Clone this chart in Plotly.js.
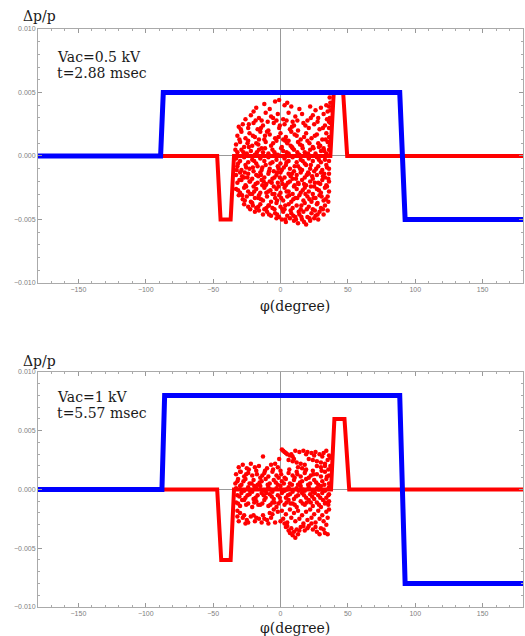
<!DOCTYPE html>
<html>
<head>
<meta charset="utf-8">
<script src="https://cdn.plot.ly/plotly-3.0.1.min.js"></script>
<style>html,body{margin:0;padding:0;background:#fff;}#chart{width:525px;height:636px;}</style>
</head>
<body>
<div id="chart"></div>
<script>
// ---- Panel 1 (Vac = 0.5 kV, t = 2.88 msec) ----
const blue1Phi = [-180, -89, -87, 88.5, 92.5, 180];
const blue1Dp  = [0, 0, 0.005, 0.005, -0.005, -0.005];
const red1Phi  = [-180, -47, -44.5, -37, -34.5, 37, 39.5, 46.5, 49.5, 180];
const red1Dp   = [0, 0, -0.005, -0.005, 0, 0, 0.005, 0.005, 0, 0];
const cloud1 = [
 [-12,0.0041],[-4,0.0043],[-1,0.0044],[3,0.0040],[8,0.0039],[-18,0.0038],[14,0.0037],[26,0.0036],[30,0.0038],[22,0.0039],[-8,0.0037],[5,0.0042],[34,0.0040],[-20,0.0035],
 [-26,0.0029],[-22,0.0032],[-16,0.0030],[-11,0.0034],[-7,0.0031],[-2,0.0033],[2,0.0029],[6,0.0034],[11,0.0031],[16,0.0033],[20,0.0028],[24,0.0032],[28,0.0030],[32,0.0033],[35,0.0035],[-14,0.0028],[9,0.0027],
 [-31,0.0023],[-28,0.0025],[-24,0.0022],[-20,0.0026],[-17,0.0021],[-13,0.0024],[-9,0.0020],[-5,0.0026],[-1,0.0022],[3,0.0025],[7,0.0021],[10,0.0024],[13,0.0020],[17,0.0026],[21,0.0022],[25,0.0025],[29,0.0021],[33,0.0024],[36,0.0027],[-3,0.0028],
 [-32,0.0016],[-29,0.0019],[-26,0.0014],[-23,0.0018],[-19,0.0015],[-15,0.0019],[-12,0.0013],[-8,0.0017],[-4,0.0014],[0,0.0018],[4,0.0015],[8,0.0019],[12,0.0016],[15,0.0013],[19,0.0018],[23,0.0014],[27,0.0017],[31,0.0013],[34,0.0018],[36,0.0015],[-10,0.0019],[6,0.0012],
 [-33,0.0009],[-30,0.0011],[-27,0.0007],[-24,0.0012],[-21,0.0008],[-18,0.0010],[-14,0.0006],[-11,0.0011],[-7,0.0008],[-3,0.0012],[1,0.0007],[5,0.0010],[9,0.0006],[13,0.0011],[16,0.0008],[20,0.0012],[24,0.0007],[28,0.0010],[32,0.0006],[35,0.0011],[-16,0.0013],[2,0.0013],
 [-32,0.0003],[-29,0.0005],[-25,0.0002],[-22,0.0004],[-19,0.0001],[-16,0.0005],[-13,0.0003],[-9,0.0002],[-6,0.0005],[-2,0.0001],[2,0.0004],[6,0.0002],[10,0.0005],[14,0.0001],[18,0.0003],[22,0.0005],[26,0.0002],[30,0.0004],[34,0.0002],[36,0.0005],
 [36.5,0.0030],[37,0.0036],[37,0.0042],[36.5,0.0046],[36,0.0022],[37,0.0012],[36.5,0.0008],[37,0.0026],[36,0.0039],
 [-29.5,0.0021],[-23.5,0.0025],[-18.5,0.0028],[-14.5,0.0022],[-9.5,0.0027],[-5.5,0.0030],[-0.5,0.0024],[4.5,0.0028],[8.5,0.0023],[12.5,0.0028],[18.5,0.0024],[22.5,0.0030],[27.5,0.0027],[31.5,0.0022],[34.5,0.0029],
 [-30.5,0.0013],[-24.5,0.0010],[-20.5,0.0016],[-16.5,0.0009],[-11.5,0.0016],[-5.5,0.0010],[-1.5,0.0015],[3.5,0.0012],[7.5,0.0008],[10.5,0.0017],[14.5,0.0009],[17.5,0.0015],[21.5,0.0010],[25.5,0.0016],[29.5,0.0008],[33.5,0.0013],
 [-33.5,0.0005],[-27.5,0.0003],[-23.5,0.0007],[-17.5,0.0003],[-11.5,0.0006],[-4.5,0.0003],[0.5,0.0006],[4.5,0.0003],[8.5,0.0007],[12.5,0.0003],[16.5,0.0006],[20.5,0.0002],[24.5,0.0006],[28.5,0.0007],[32.5,0.0004],
 [-33,-0.0002],[-30,-0.0004],[-27,-0.0001],[-24,-0.0005],[-21,-0.0003],[-18,-0.0006],[-15,-0.0002],[-12,-0.0004],[-9,-0.0001],[-6,-0.0005],[-3,-0.0003],[0,-0.0006],[3,-0.0002],[6,-0.0004],[9,-0.0001],[12,-0.0005],[15,-0.0003],[18,-0.0006],[21,-0.0002],[24,-0.0004],[27,-0.0001],[30,-0.0005],[33,-0.0003],[36,-0.0004],
 [-32,-0.0008],[-29,-0.0011],[-26,-0.0007],[-23,-0.0010],[-20,-0.0012],[-17,-0.0008],[-14,-0.0011],[-11,-0.0007],[-8,-0.0010],[-5,-0.0012],[-2,-0.0008],[1,-0.0011],[4,-0.0007],[7,-0.0010],[10,-0.0012],[13,-0.0008],[16,-0.0011],[19,-0.0007],[22,-0.0010],[25,-0.0012],[28,-0.0008],[31,-0.0011],[34,-0.0007],[36,-0.0010],
 [-33,-0.0015],[-30,-0.0013],[-27,-0.0017],[-24,-0.0014],[-21,-0.0018],[-18,-0.0015],[-15,-0.0013],[-12,-0.0017],[-9,-0.0014],[-6,-0.0018],[-3,-0.0015],[0,-0.0013],[3,-0.0017],[6,-0.0014],[9,-0.0018],[12,-0.0015],[15,-0.0013],[18,-0.0017],[21,-0.0014],[24,-0.0018],[27,-0.0015],[30,-0.0013],[33,-0.0017],[36,-0.0014],
 [-32,-0.0021],[-29,-0.0019],[-26,-0.0023],[-23,-0.0020],[-20,-0.0024],[-17,-0.0021],[-14,-0.0019],[-11,-0.0023],[-8,-0.0020],[-5,-0.0024],[-2,-0.0021],[1,-0.0019],[4,-0.0023],[7,-0.0020],[10,-0.0024],[13,-0.0021],[16,-0.0019],[19,-0.0023],[22,-0.0020],[25,-0.0024],[28,-0.0021],[31,-0.0019],[34,-0.0023],[36,-0.0020],
 [-33,-0.0026],[-30,-0.0029],[-27,-0.0025],[-24,-0.0028],[-21,-0.0030],[-18,-0.0026],[-15,-0.0029],[-12,-0.0025],[-9,-0.0028],[-6,-0.0030],[-3,-0.0026],[0,-0.0029],[3,-0.0025],[6,-0.0028],[9,-0.0030],[12,-0.0026],[15,-0.0029],[18,-0.0025],[21,-0.0028],[24,-0.0030],[27,-0.0026],[30,-0.0029],[33,-0.0025],[36,-0.0028],
 [-31,-0.0031],[-28,-0.0034],[-25,-0.0032],[-22,-0.0036],[-19,-0.0033],[-16,-0.0031],[-13,-0.0035],[-10,-0.0032],[-7,-0.0036],[-4,-0.0033],[-1,-0.0031],[2,-0.0035],[5,-0.0032],[8,-0.0036],[11,-0.0033],[14,-0.0031],[17,-0.0035],[20,-0.0032],[23,-0.0036],[26,-0.0033],[29,-0.0031],[32,-0.0035],[35,-0.0032],
 [-27,-0.0038],[-24,-0.0040],[-21,-0.0037],[-18,-0.0041],[-15,-0.0038],[-12,-0.0042],[-9,-0.0039],[-6,-0.0041],[-3,-0.0037],[0,-0.0040],[3,-0.0042],[6,-0.0038],[9,-0.0041],[12,-0.0039],[15,-0.0042],[18,-0.0037],[21,-0.0040],[24,-0.0042],[27,-0.0038],[30,-0.0041],[33,-0.0039],[35,-0.0043],
 [-19,-0.0044],[-16,-0.0043],[-13,-0.0046],[-10,-0.0044],[-7,-0.0047],[-4,-0.0045],[-1,-0.0048],[2,-0.0044],[5,-0.0047],[8,-0.0045],[11,-0.0048],[14,-0.0046],[17,-0.0044],[20,-0.0048],[23,-0.0045],[26,-0.0047],[29,-0.0044],[32,-0.0046],
 [1,-0.0050],[4,-0.0052],[7,-0.0049],[10,-0.0051],[13,-0.0053],[16,-0.0050],[19,-0.0054],[22,-0.0051],[25,-0.0049],[-3,-0.0049],[28,-0.0050],
 [-31.5,-0.0006],[-25.5,-0.0009],[-19.5,-0.0004],[-13.5,-0.0009],[-7.5,-0.0006],[-1.5,-0.0010],[4.5,-0.0005],[10.5,-0.0008],[16.5,-0.0004],[22.5,-0.0007],[28.5,-0.0003],[34.5,-0.0009],
 [-28.5,-0.0016],[-22.5,-0.0020],[-16.5,-0.0016],[-10.5,-0.0022],[-4.5,-0.0017],[1.5,-0.0022],[7.5,-0.0016],[13.5,-0.0022],[19.5,-0.0015],[25.5,-0.0021],[31.5,-0.0016],
 [-31.5,-0.0027],[-25.5,-0.0024],[-19.5,-0.0028],[-13.5,-0.0023],[-7.5,-0.0027],[-1.5,-0.0024],[4.5,-0.0028],[10.5,-0.0023],[16.5,-0.0027],[22.5,-0.0024],[28.5,-0.0027],[34.5,-0.0024],
 [-26.5,-0.0035],[-20.5,-0.0039],[-14.5,-0.0034],[-8.5,-0.0039],[-2.5,-0.0035],[3.5,-0.0039],[9.5,-0.0034],[15.5,-0.0039],[21.5,-0.0034],[27.5,-0.0037],[33.5,-0.0034],
 [-32.5,-0.0011],[-26.5,-0.0013],[-20.5,-0.0009],[-14.5,-0.0015],[-8.5,-0.0012],[-2.5,-0.0013],[2.5,-0.0009],[8.5,-0.0014],[14.5,-0.0010],[20.5,-0.0013],[26.5,-0.0010],[32.5,-0.0014],
 [-30.5,-0.0019],[-24.5,-0.0017],[-18.5,-0.0022],[-12.5,-0.0020],[-6.5,-0.0021],[-0.5,-0.0017],[5.5,-0.0021],[11.5,-0.0018],[17.5,-0.0022],[23.5,-0.0016],[29.5,-0.0022],[35.5,-0.0018],
 [-28.5,-0.0031],[-22.5,-0.0030],[-16.5,-0.0033],[-10.5,-0.0029],[-4.5,-0.0030],[0.5,-0.0033],[6.5,-0.0031],[12.5,-0.0033],[18.5,-0.0030],[24.5,-0.0033],[30.5,-0.0032],[35.5,-0.0036],
 [-22.5,-0.0042],[-16.5,-0.0040],[-10.5,-0.0041],[-4.5,-0.0042],[1.5,-0.0042],[7.5,-0.0043],[13.5,-0.0044],[19.5,-0.0042],[25.5,-0.0043],[31.5,-0.0042],
 [-8.5,-0.0046],[-2.5,-0.0046],[3.5,-0.0050],[9.5,-0.0047],[15.5,-0.0048],[21.5,-0.0049],[27.5,-0.0046],[11.5,-0.0050],[17.5,-0.0052]
];

// ---- Panel 2 (Vac = 1 kV, t = 5.57 msec) ----
const blue2Phi = [-180, -88, -86, 88.5, 92.5, 180];
const blue2Dp  = [0, 0, 0.008, 0.008, -0.008, -0.008];
const red2Phi  = [-180, -47, -44, -37, -34.5, 37.5, 40, 47.5, 51, 180];
const red2Dp   = [0, 0, -0.006, -0.006, 0, 0, 0.006, 0.006, 0, 0];
const cloud2 = [
 [-13,0.0028],[1,0.0034],[3,0.0032],[5,0.0030],[7,0.0029],[9,0.0028],[2,0.0033],[11,0.0033],[14,0.0032],[17,0.0033],[20,0.0032],[23,0.0031],[26,0.0032],[29,0.0030],[32,0.0031],[34,0.0033],[36,0.0029],
 [6,0.0025],[9,0.0024],[12,0.0023],[15,0.0022],[18,0.0021],[21,0.0026],[24,0.0025],[27,0.0024],[30,0.0023],[33,0.0022],[35,0.0025],[13,0.0019],[16,0.0018],[19,0.0017],[-1,0.0026],[-4,0.0022],
 [4,0.0031],[8,0.0030],[19,0.0030],[25,0.0029],[31,0.0028],[10,0.0026],[27,0.0020],[30,0.0019],[33,0.0020],
 [-31,0.0019],[-28,0.0021],[-25,0.0018],[-22,0.0022],[-19,0.0019],[-16,0.0020],[-10,0.0018],[-7,0.0021],[-2,0.0019],
 [-33,0.0013],[-30,0.0015],[-27,0.0011],[-24,0.0014],[-21,0.0012],[-18,0.0016],[-15,0.0010],[-12,0.0014],[-9,0.0011],[-6,0.0015],[-3,0.0012],[0,0.0016],[3,0.0010],[6,0.0014],[9,0.0012],[12,0.0015],[15,0.0011],[18,0.0014],[21,0.0010],[24,0.0016],[27,0.0013],[30,0.0011],[33,0.0015],[36,0.0012],[37,0.0020],[37,0.0027],
 [-29.5,0.0015],[-23.5,0.0017],[-17.5,0.0013],[-11.5,0.0016],[-5.5,0.0017],[0.5,0.0013],[6.5,0.0017],[12.5,0.0013],[18.5,0.0016],[24.5,0.0013],[30.5,0.0016],[35.5,0.0017],
 [-32,0.0007],[-29,0.0004],[-26,0.0009],[-23,0.0005],[-20,0.0008],[-17,0.0004],[-14,0.0007],[-11,0.0009],[-8,0.0005],[-5,0.0008],[-2,0.0004],[1,0.0007],[4,0.0009],[7,0.0005],[10,0.0008],[13,0.0004],[16,0.0007],[19,0.0009],[22,0.0005],[25,0.0008],[28,0.0004],[31,0.0007],[34,0.0009],[36,0.0005],
 [-33.5,0.0005],[-27.5,0.0007],[-21.5,0.0005],[-15.5,0.0006],[-9.5,0.0004],[-3.5,0.0006],[2.5,0.0005],[8.5,0.0004],[14.5,0.0006],[20.5,0.0004],[26.5,0.0006],[32.5,0.0004],
 [-33,0.0001],[-30,0.0003],[-27,-0.0001],[-24,0.0002],[-21,-0.0002],[-18,0.0001],[-15,0.0003],[-12,-0.0001],[-9,0.0002],[-6,-0.0002],[-3,0.0001],[0,0.0003],[3,-0.0001],[6,0.0002],[9,-0.0002],[12,0.0001],[15,0.0003],[18,-0.0001],[21,0.0002],[24,-0.0002],[27,0.0001],[30,0.0003],[33,-0.0001],[36,0.0002],
 [-31.5,0.0009],[-25.5,0.0013],[-19.5,0.0003],[-13.5,0.0012],[-7.5,0.0000],[-1.5,0.0010],[4.5,0.0000],[10.5,0.0010],[16.5,0.0000],[22.5,0.0012],[28.5,0.0000],[34.5,0.0011],
 [-32,-0.0005],[-29,-0.0003],[-26,-0.0007],[-23,-0.0004],[-20,-0.0008],[-17,-0.0005],[-14,-0.0003],[-11,-0.0007],[-8,-0.0004],[-5,-0.0008],[-2,-0.0005],[1,-0.0003],[4,-0.0007],[7,-0.0004],[10,-0.0008],[13,-0.0005],[16,-0.0003],[19,-0.0007],[22,-0.0004],[25,-0.0008],[28,-0.0005],[31,-0.0003],[34,-0.0007],[36,-0.0004],
 [-30.5,-0.0006],[-24.5,-0.0005],[-18.5,-0.0007],[-12.5,-0.0005],[-6.5,-0.0006],[-0.5,-0.0007],[5.5,-0.0005],[11.5,-0.0006],[17.5,-0.0005],[23.5,-0.0006],[29.5,-0.0007],[35.5,-0.0005],
 [-33,-0.0011],[-30,-0.0014],[-27,-0.0009],[-24,-0.0012],[-21,-0.0015],[-18,-0.0010],[-15,-0.0013],[-12,-0.0009],[-9,-0.0014],[-6,-0.0011],[-3,-0.0015],[0,-0.0010],[3,-0.0013],[6,-0.0009],[9,-0.0012],[12,-0.0015],[15,-0.0010],[18,-0.0013],[21,-0.0009],[24,-0.0014],[27,-0.0011],[30,-0.0015],[33,-0.0012],[36,-0.0010],
 [-28.5,-0.0009],[-22.5,-0.0001],[-16.5,-0.0013],[-10.5,-0.0003],[-4.5,-0.0011],[1.5,-0.0002],[7.5,-0.0012],[13.5,-0.0001],[19.5,-0.0011],[25.5,-0.0003],[31.5,-0.0009],[35.5,-0.0013],
 [-31.5,-0.0012],[-25.5,-0.0013],[-19.5,-0.0011],[-13.5,-0.0012],[-7.5,-0.0013],[-1.5,-0.0012],[4.5,-0.0011],[10.5,-0.0013],[16.5,-0.0012],[22.5,-0.0011],[28.5,-0.0013],[33.5,-0.0011],
 [-32,-0.0018],[-32,-0.0023],[-31,-0.0027],[-30,-0.0020],
 [-28,-0.0024],[-25,-0.0026],[-22,-0.0023],[-19,-0.0027],[-16,-0.0025],[-13,-0.0022],[-10,-0.0026],[-7,-0.0024],[-4,-0.0028],[-26,-0.0029],[-20,-0.0022],[-14,-0.0028],
 [-27,-0.0022],[-24,-0.0028],[-18,-0.0024],[-12,-0.0025],[-9,-0.0029],[-6,-0.0021],
 [1,-0.0018],[4,-0.0021],[7,-0.0017],[10,-0.0020],[13,-0.0018],[16,-0.0022],[19,-0.0019],[22,-0.0017],[25,-0.0021],[28,-0.0018],[31,-0.0022],[34,-0.0019],[36,-0.0017],[-2,-0.0019],[-5,-0.0017],[-8,-0.0020],
 [2,-0.0025],[5,-0.0028],[8,-0.0024],[11,-0.0027],[14,-0.0025],[17,-0.0029],[20,-0.0026],[23,-0.0024],[26,-0.0028],[29,-0.0025],[32,-0.0027],[35,-0.0024],[0,-0.0027],
 [4,-0.0032],[6,-0.0035],[8,-0.0033],[10,-0.0036],[12,-0.0034],[9,-0.0039],[13,-0.0038],[11,-0.0041],[15,-0.0032],[18,-0.0035],[21,-0.0031],[24,-0.0034],[27,-0.0036],[30,-0.0033],[33,-0.0037],[35,-0.0038],[29,-0.0038],[3,-0.0029],
 [5,-0.0031],[7,-0.0037],[14,-0.0035],[20,-0.0033],[26,-0.0032],[32,-0.0034],[17,-0.0031],[34,-0.0030],[23,-0.0029]
];

const xTickVals = [-150, -100, -50, 0, 50, 100, 150];
const yTickVals = [-0.010, -0.005, 0, 0.005, 0.010];

const RED = '#ff0000', BLUE = '#0000ff';
function lineTrace(x, y, color, w, xa, ya) {
  return {x: x, y: y, type: 'scatter', mode: 'lines', line: {color: color, width: w},
          xaxis: xa, yaxis: ya, hoverinfo: 'skip', showlegend: false};
}
function cloudTrace(pts, xa, ya) {
  return {x: pts.map(p => p[0]), y: pts.map(p => p[1]), type: 'scatter', mode: 'markers',
          marker: {color: RED, size: 4.5, line: {width: 0}},
          xaxis: xa, yaxis: ya, hoverinfo: 'skip', showlegend: false};
}

const data = [
  lineTrace(red1Phi, red1Dp, RED, 4, 'x', 'y'),
  cloudTrace(cloud1, 'x', 'y'),
  lineTrace(blue1Phi, blue1Dp, BLUE, 5, 'x', 'y'),
  lineTrace(red2Phi, red2Dp, RED, 4, 'x2', 'y2'),
  cloudTrace(cloud2, 'x2', 'y2'),
  lineTrace(blue2Phi, blue2Dp, BLUE, 5, 'x2', 'y2')
];

const tickFont = {family: 'Liberation Sans, Arial, sans-serif', size: 7, color: '#808080'};
function xAx(anchor) {
  return {anchor: anchor, range: [-180, 180], tickvals: xTickVals, ticks: 'inside', ticklen: 4,
          tickcolor: '#999', tickwidth: 1, showline: true, linecolor: '#aaa', linewidth: 1, mirror: 'ticks',
          minor: {dtick: 10, tick0: 0, ticks: 'inside', ticklen: 2, tickcolor: '#aaa'},
          showgrid: false, zeroline: true, zerolinecolor: '#999', zerolinewidth: 1,
          tickfont: tickFont, fixedrange: true};
}
function yAx(anchor, domain) {
  return {anchor: anchor, domain: domain, range: [-0.010, 0.010], tickvals: yTickVals, tickformat: '.3f',
          ticks: 'inside', ticklen: 4, tickcolor: '#999', tickwidth: 1, showline: true, linecolor: '#aaa',
          linewidth: 1, mirror: 'ticks',
          minor: {dtick: 0.001, tick0: 0, ticks: 'inside', ticklen: 2, tickcolor: '#aaa'},
          showgrid: false, zeroline: true, zerolinecolor: '#999', zerolinewidth: 1,
          tickfont: tickFont, fixedrange: true};
}

const serif = {family: 'DejaVu Serif, serif', size: 14, color: '#1a1a1a'};
function ann(text, x, y, xanchor, font) {
  return {text: text, xref: 'paper', yref: 'paper', x: x, y: y, xanchor: xanchor, yanchor: 'middle',
          showarrow: false, font: font || serif};
}
// paper coordinates: plot area spans x 38..523 px, y 29..607 px
const px = v => (v - 38) / 485;
const py = v => (607 - v) / 578;

const layout = {
  width: 525, height: 636,
  margin: {l: 38, r: 2, t: 29, b: 29},
  paper_bgcolor: '#fff', plot_bgcolor: '#fff',
  showlegend: false,
  xaxis: xAx('y'),
  yaxis: yAx('x', [0.5606, 1]),
  xaxis2: xAx('y2'),
  yaxis2: yAx('x2', [0, 0.4066]),
  annotations: [
    ann('Δp/p', px(21), py(16), 'left'),
    ann('Δp/p', px(21), py(361), 'left'),
    ann('φ(degree)', px(295), py(306), 'center'),
    ann('φ(degree)', px(295), py(628), 'center'),
    ann('Vac=0.5 kV', px(55), py(57), 'left'),
    ann('t=2.88 msec', px(55), py(73), 'left'),
    ann('Vac=1 kV', px(55), py(397), 'left'),
    ann('t=5.57 msec', px(55), py(413), 'left')
  ]
};

Plotly.newPlot('chart', data, layout, {displayModeBar: false, staticPlot: true});
</script>
</body>
</html>
